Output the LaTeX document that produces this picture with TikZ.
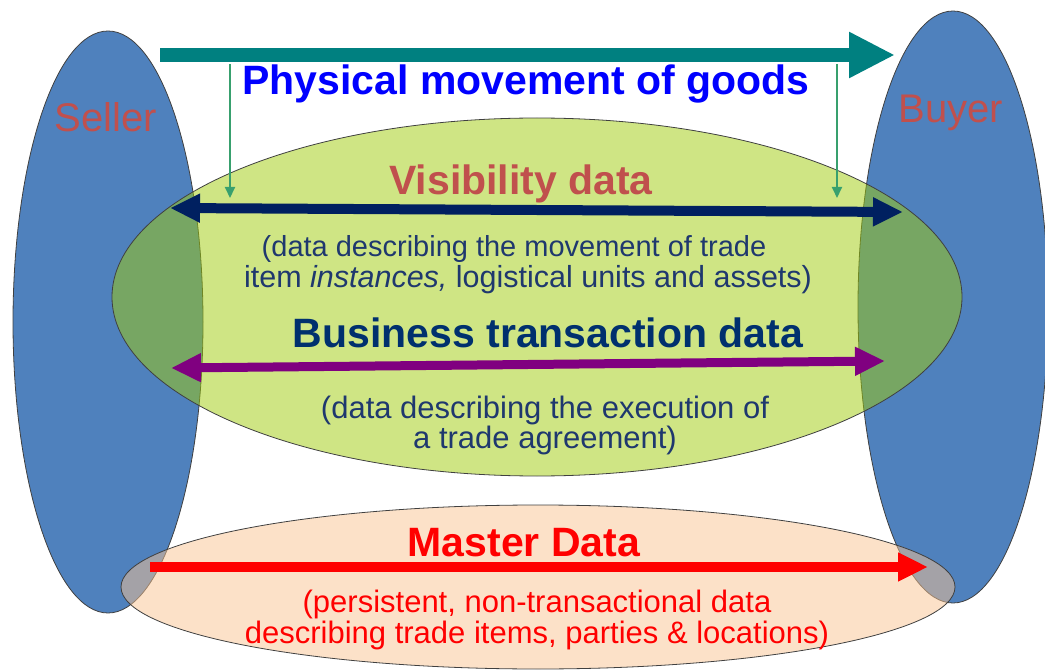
\documentclass[tikz,border=0pt]{standalone}
\usepackage{fontspec}
\setmainfont{Liberation Sans}
\usetikzlibrary{arrows.meta}

\definecolor{partyblue}{RGB}{79,129,189}
\definecolor{visgreen}{RGB}{159,204,10}
\definecolor{masterpeach}{RGB}{249,196,146}
\definecolor{goodsteal}{RGB}{0,128,128}
\definecolor{dropgreen}{RGB}{56,160,110}
\definecolor{visnavy}{RGB}{0,32,96}
\definecolor{btpurple}{RGB}{128,0,128}
\definecolor{labelred}{RGB}{192,80,77}
\definecolor{notenavy}{RGB}{31,56,110}
\definecolor{btnavy}{RGB}{0,48,110}

\tikzset{
  party/.style={fill=partyblue, draw=black!75, line width=0.8pt},
  layer/.style={fill opacity=0.5, draw=black!75, line width=0.8pt},
  party label/.style={anchor=base, text=labelred, font=\fontsize{40}{44}\selectfont},
  title/.style={anchor=base, font=\fontsize{41}{46}\selectfont\bfseries},
  note/.style={anchor=base, font=\fontsize{31}{34}\selectfont},
  goods arrow/.style={goodsteal, line width=14pt, -{Triangle[length=46pt,width=43pt]}},
  drop arrow/.style={dropgreen, line width=2pt, -{Triangle[length=11pt,width=10pt]}},
  flow arrow/.style={line width=10pt, {Triangle[length=30pt,width=27pt]}-{Triangle[length=30pt,width=27pt]}}
}

\begin{document}
\begin{tikzpicture}[x=1pt,y=-1pt]
  \clip (0,0) rectangle (1045,671);

  % seller and buyer
  \filldraw[party] (108,322) ellipse [x radius=95pt, y radius=291pt];
  \filldraw[party] (953,307) ellipse [x radius=95pt, y radius=296pt];

  % data layers
  \filldraw[layer, fill=visgreen] (537,297) ellipse [x radius=425pt, y radius=179pt];
  \filldraw[layer, fill=masterpeach] (538,587) ellipse [x radius=417pt, y radius=82pt];

  % end points of the arrows
  \coordinate (goods start) at (160,55);
  \coordinate (goods end) at (895,55);
  \coordinate (drop left top) at (230,64);
  \coordinate (drop left end) at (230,198);
  \coordinate (drop right top) at (837,64);
  \coordinate (drop right end) at (837,198);
  \coordinate (vis west) at (170,208);
  \coordinate (vis east) at (903,212);
  \coordinate (bt west) at (171,368);
  \coordinate (bt east) at (885,361);
  \coordinate (master start) at (150,567);
  \coordinate (master end) at (928,567);

  \draw[goods arrow] (goods start) -- (goods end);
  \draw[drop arrow] (drop left top) -- (drop left end);
  \draw[drop arrow] (drop right top) -- (drop right end);
  \draw[flow arrow, visnavy] (vis west) -- (vis east);
  \draw[flow arrow, btpurple, line width=9pt] (bt west) -- (bt east);
  \draw[red, line width=10pt, -{Triangle[length=30pt,width=27pt]}] (master start) -- (master end);

  % labels
  \node[party label] (seller) at (106,132) {Seller};
  \node[party label] (buyer) at (951,123) {Buyer};
  \node[title, text=blue] (goods) at (526,95) {Physical movement of goods};
  \node[title, text=labelred] (vis) at (521,195) {Visibility data};
  \node[note, text=notenavy, font=\fontsize{29}{32}\selectfont] (vis note a) at (514,257) {(data describing the movement of trade};
  \node[note, text=notenavy, font=\fontsize{30.5}{34}\selectfont] (vis note b) at (528,288) {item \textit{instances,} logistical units and assets)};
  \node[title, text=btnavy] (bt) at (548,348) {Business transaction data};
  \node[note, text=notenavy] (bt note a) at (545,418) {(data describing the execution of};
  \node[note, text=notenavy] (bt note b) at (545,448) {a trade agreement)};
  \node[title, text=red] (master) at (524,556) {Master Data};
  \node[note, text=red] (master note a) at (537,612) {(persistent, non-transactional data};
  \node[note, text=red] (master note b) at (537,643) {describing trade items, parties \& locations)};
\end{tikzpicture}
\end{document}
